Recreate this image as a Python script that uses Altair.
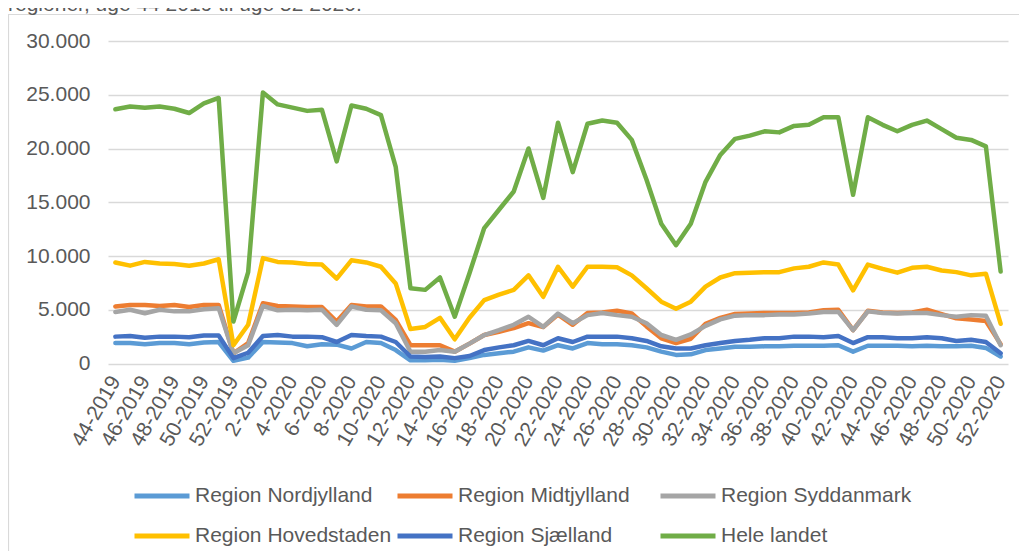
import altair as alt
import pandas as pd

title_text = "regioner, uge 44 2019 til uge 52 2020."

weeks = [
    "44-2019", "45-2019", "46-2019", "47-2019", "48-2019", "49-2019", "50-2019", "51-2019", "52-2019",
    "1-2020", "2-2020", "3-2020", "4-2020", "5-2020", "6-2020", "7-2020", "8-2020", "9-2020", "10-2020",
    "11-2020", "12-2020", "13-2020", "14-2020", "15-2020", "16-2020", "17-2020", "18-2020", "19-2020",
    "20-2020", "21-2020", "22-2020", "23-2020", "24-2020", "25-2020", "26-2020", "27-2020", "28-2020",
    "29-2020", "30-2020", "31-2020", "32-2020", "33-2020", "34-2020", "35-2020", "36-2020", "37-2020",
    "38-2020", "39-2020", "40-2020", "41-2020", "42-2020", "43-2020", "44-2020", "45-2020", "46-2020",
    "47-2020", "48-2020", "49-2020", "50-2020", "51-2020", "52-2020",
]
week_labels = [
    "44-2019", "46-2019", "48-2019", "50-2019", "52-2019", "2-2020", "4-2020", "6-2020", "8-2020",
    "10-2020", "12-2020", "14-2020", "16-2020", "18-2020", "20-2020", "22-2020", "24-2020", "26-2020",
    "28-2020", "30-2020", "32-2020", "34-2020", "36-2020", "38-2020", "40-2020", "42-2020", "44-2020",
    "46-2020", "48-2020", "50-2020", "52-2020",
]

nordjylland = [1900, 1900, 1800, 1900, 1900, 1800, 1950, 2000, 250, 550, 2000, 1950, 1900, 1600, 1800,
               1750, 1400, 2000, 1900, 1250, 300, 300, 350, 250, 500, 800, 950, 1100, 1500, 1200, 1700,
               1400, 1900, 1800, 1800, 1700, 1500, 1100, 800, 850, 1250, 1400, 1550, 1550, 1600, 1600,
               1650, 1650, 1650, 1700, 1100, 1650, 1650, 1650, 1600, 1650, 1600, 1600, 1650, 1450, 650]
midtjylland = [5300, 5450, 5450, 5350, 5450, 5250, 5450, 5450, 950, 1900, 5600, 5350, 5300, 5250, 5250,
               3900, 5450, 5300, 5300, 4050, 1700, 1700, 1700, 1100, 1850, 2650, 2950, 3300, 3750, 3400,
               4550, 3600, 4700, 4750, 4900, 4650, 3450, 2350, 1900, 2300, 3700, 4250, 4600, 4650, 4700,
               4700, 4700, 4750, 4950, 5000, 3100, 4900, 4750, 4700, 4750, 5000, 4600, 4200, 4100, 3950, 1800]
syddanmark = [4800, 5000, 4670, 5000, 4850, 4850, 5050, 5150, 950, 1700, 5350, 4950, 5000, 4950, 5000,
              3600, 5300, 5000, 4950, 3750, 1100, 1100, 1250, 1100, 1850, 2650, 3100, 3600, 4350, 3400,
              4650, 3750, 4500, 4700, 4500, 4350, 3750, 2650, 2200, 2700, 3500, 4100, 4450, 4500, 4500,
              4550, 4550, 4650, 4800, 4800, 3100, 4850, 4700, 4650, 4700, 4700, 4500, 4350, 4500, 4450, 1700]
hovedstaden = [9400, 9100, 9450, 9300, 9250, 9100, 9300, 9700, 1700, 3600, 9800, 9450, 9400, 9250, 9200,
               7900, 9600, 9400, 9000, 7450, 3200, 3400, 4250, 2250, 4250, 5900, 6400, 6850, 8200, 6200,
               9000, 7150, 9000, 9000, 8950, 8200, 7000, 5750, 5100, 5750, 7150, 8000, 8400, 8450, 8500,
               8500, 8850, 9000, 9400, 9200, 6800, 9200, 8800, 8450, 8900, 9000, 8650, 8500, 8200, 8350, 3700]
sjaelland = [2500, 2550, 2400, 2500, 2500, 2450, 2600, 2600, 500, 1000, 2550, 2650, 2500, 2500, 2450,
             2000, 2650, 2550, 2500, 2000, 650, 600, 650, 500, 700, 1250, 1500, 1700, 2100, 1700, 2350,
             2000, 2500, 2500, 2500, 2350, 2100, 1600, 1400, 1400, 1700, 1900, 2100, 2200, 2350, 2350,
             2500, 2500, 2450, 2550, 1900, 2450, 2450, 2350, 2350, 2450, 2350, 2100, 2200, 2000, 950]
hele_landet = [23650, 23900, 23800, 23900, 23700, 23300, 24200, 24700, 3900, 8500, 25200, 24100, 23800,
               23500, 23600, 18800, 24000, 23700, 23100, 18300, 7000, 6850, 8000, 4350, 8400, 12600, 14300,
               16000, 20000, 15400, 22400, 17800, 22300, 22600, 22400, 20800, 17100, 13000, 11000, 13000,
               16900, 19400, 20900, 21200, 21600, 21500, 22100, 22200, 22900, 22900, 15700, 22900, 22200,
               21600, 22200, 22600, 21800, 21000, 20800, 20200, 8550]

series_names = ["Region Nordjylland", "Region Midtjylland", "Region Syddanmark",
                "Region Hovedstaden", "Region Sjælland", "Hele landet"]
series_values = [nordjylland, midtjylland, syddanmark, hovedstaden, sjaelland, hele_landet]
series_colors = ["#5B9BD5", "#ED7D31", "#A5A5A5", "#FFC000", "#4472C4", "#70AD47"]
y_ticks = [0, 5000, 10000, 15000, 20000, 25000, 30000]

rows = []
for name, vals in zip(series_names, series_values):
    for w, v in zip(weeks, vals):
        rows.append({"uge": w, "region": name, "antal": v})
df = pd.DataFrame(rows)

FONT = "Liberation Sans"
TXT = "#595959"
FS = 21

lines = alt.Chart(df).mark_line(strokeWidth=4.5, strokeJoin="round", strokeCap="round").encode(
    x=alt.X("uge:N", sort=weeks,
            scale=alt.Scale(type="point", padding=0.5),
            axis=alt.Axis(values=week_labels, labelAngle=300, labelAlign="right",
                          labelBaseline="middle", labelFontSize=FS, labelColor=TXT,
                          labelFont=FONT, ticks=False, domain=False, grid=False,
                          labelPadding=14, title=None, labelOverlap=False)),
    y=alt.Y("antal:Q", scale=alt.Scale(domain=[0, 30000], nice=False, zero=True),
            axis=alt.Axis(values=y_ticks, labelExpr="replace(format(datum.value, ','), ',', '.')",
                          labelFontSize=FS, labelColor=TXT, labelFont=FONT, ticks=False,
                          domain=False, grid=True, gridColor="#D9D9D9", gridWidth=1.5,
                          labelPadding=18, title=None)),
    color=alt.Color("region:N", sort=series_names,
                    scale=alt.Scale(domain=series_names, range=series_colors),
                    legend=alt.Legend(orient="none", legendX=24, legendY=425, columns=3,
                                      direction="horizontal",
                                      symbolType="stroke", symbolStrokeWidth=5, symbolSize=3025,
                                      labelFontSize=FS, labelColor=TXT, labelFont=FONT,
                                      labelOffset=3, labelLimit=300, gridAlign="all",
                                      columnPadding=-5, rowPadding=-14, padding=0, title=None)),
)

border_df = pd.DataFrame({"k": [0]})
border = alt.Chart(border_df).mark_rect(fill="transparent", stroke="#D9D9D9", strokeWidth=1.2).encode(
    x=alt.value(-99.5), x2=alt.value(1000), y=alt.value(-26.5), y2=alt.value(600)
)

title_df = pd.DataFrame({"t": [title_text]})
title = alt.Chart(title_df).mark_text(align="left", baseline="alphabetic", font=FONT,
                                      fontSize=FS, color=TXT).encode(
    x=alt.value(-100), y=alt.value(-30), text="t:N"
)

chart = alt.layer(border, lines, title).properties(
    width=900, height=322.5,
    autosize=alt.AutoSizeParams(type="none"),
    padding={"left": 100, "top": 33, "right": 11, "bottom": 187},
).configure_view(stroke=None)

chart.save("out.html", embed_options={"renderer": "svg", "actions": False})
